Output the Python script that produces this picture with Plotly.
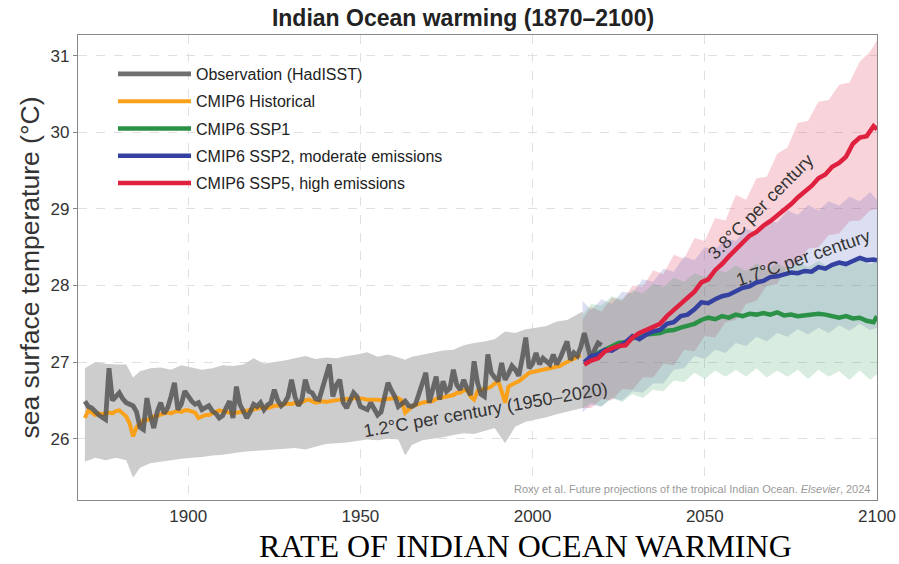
import plotly.graph_objects as go

# ---------------- data ----------------
obs_years = list(range(1870, 2021))
obs_sst = [26.49, 26.42, 26.40, 26.35, 26.31, 26.28, 26.25, 26.92, 26.50, 26.55,
           26.60, 26.52, 26.47, 26.45, 26.43, 26.35, 26.15, 26.12, 26.53, 26.30,
           26.14, 26.35, 26.47, 26.33, 26.40, 26.55, 26.73, 26.38, 26.45, 26.62,
           26.55, 26.49, 26.45, 26.47, 26.38, 26.40, 26.43, 26.36, 26.33, 26.27,
           26.30, 26.40, 26.49, 26.27, 26.68, 26.45, 26.36, 26.27, 26.35, 26.45,
           26.42, 26.47, 26.38, 26.44, 26.47, 26.64, 26.50, 26.43, 26.47, 26.55,
           26.77, 26.55, 26.43, 26.51, 26.77, 26.62, 26.60, 26.52, 26.51, 26.65,
           26.80, 26.97, 26.55, 26.70, 26.77, 26.47, 26.40, 26.50, 26.60, 26.55,
           26.42, 26.40, 26.38, 26.47, 26.40, 26.31, 26.35, 26.55, 26.73, 26.63,
           26.55, 26.42, 26.45, 26.49, 26.43, 26.42, 26.45, 26.60, 26.75, 26.86,
           26.47, 26.65, 26.81, 26.51, 26.75, 26.62, 26.66, 26.90, 26.70, 26.64,
           26.77, 26.65, 26.57, 27.01, 26.73, 26.58, 26.55, 27.10, 26.86, 26.80,
           26.75, 26.99, 26.77, 26.85, 26.95, 26.90, 26.82, 27.05, 27.32, 26.92,
           26.98, 27.12, 26.97, 27.05, 27.00, 26.97, 27.10, 26.97, 27.05, 27.18,
           27.27, 27.03, 27.12, 27.08, 27.20, 27.38, 27.20, 27.03, 27.16, 27.25,
           27.22]

hist_years = list(range(1870, 2015))
hist_sst = [26.27, 26.37, 26.34, 26.31, 26.33, 26.32, 26.33, 26.34, 26.33, 26.36,
            26.37, 26.33, 26.29, 26.20, 26.03, 26.15, 26.20, 26.24, 26.24, 26.27,
            26.29, 26.30, 26.32, 26.33, 26.34, 26.33, 26.35, 26.36, 26.35, 26.37,
            26.37, 26.36, 26.34, 26.27, 26.29, 26.31, 26.31, 26.33, 26.36, 26.37,
            26.36, 26.35, 26.34, 26.33, 26.34, 26.35, 26.36, 26.37, 26.38, 26.39,
            26.39, 26.40, 26.41, 26.40, 26.42, 26.43, 26.43, 26.44, 26.45, 26.46,
            26.45, 26.47, 26.45, 26.48, 26.50, 26.51, 26.49, 26.47, 26.48, 26.49,
            26.48, 26.49, 26.49, 26.50, 26.51, 26.51, 26.52, 26.51, 26.53, 26.53,
            26.53, 26.52, 26.51, 26.51, 26.52, 26.51, 26.50, 26.52, 26.52, 26.53,
            26.53, 26.53, 26.50, 26.34, 26.38, 26.42, 26.44, 26.46, 26.47, 26.48,
            26.49, 26.49, 26.52, 26.53, 26.55, 26.56, 26.57, 26.57, 26.60, 26.60,
            26.63, 26.64, 26.55, 26.51, 26.62, 26.64, 26.65, 26.66, 26.68, 26.72,
            26.75, 26.62, 26.47, 26.68, 26.71, 26.73, 26.75, 26.79, 26.82, 26.86,
            26.87, 26.88, 26.89, 26.90, 26.92, 26.92, 26.94, 26.95, 26.95, 26.98,
            27.00, 27.02, 27.04, 27.07, 27.09]

hist_band_years = [1870, 1873, 1876, 1879, 1882, 1884, 1886, 1889, 1892, 1895,
                   1898, 1901, 1904, 1907, 1910, 1913, 1916, 1919, 1922, 1925,
                   1928, 1931, 1934, 1937, 1940, 1943, 1946, 1949, 1952, 1955,
                   1958, 1961, 1963, 1965, 1968, 1971, 1974, 1977, 1980, 1983,
                   1986, 1989, 1992, 1995, 1998, 2001, 2004, 2007, 2010, 2014.5]
hist_upper = [26.92, 27.00, 26.98, 26.97, 26.97, 26.80, 26.88, 26.92, 26.93, 26.90,
              26.96, 26.93, 26.90, 26.92, 26.96, 26.95, 26.97, 27.05, 26.98, 27.00,
              27.02, 27.05, 27.08, 27.04, 27.06, 27.05, 27.08, 27.10, 27.13, 27.07,
              27.10, 27.06, 27.03, 27.07, 27.10, 27.12, 27.15, 27.16, 27.22, 27.25,
              27.27, 27.30, 27.40, 27.38, 27.43, 27.45, 27.47, 27.53, 27.55, 27.66]
hist_lower = [25.70, 25.75, 25.72, 25.75, 25.72, 25.49, 25.62, 25.68, 25.70, 25.72,
              25.74, 25.75, 25.76, 25.78, 25.79, 25.81, 25.83, 25.84, 25.85, 25.86,
              25.87, 25.88, 25.86, 25.90, 25.93, 25.94, 25.95, 25.97, 25.99, 25.98,
              26.00, 25.99, 25.78, 25.92, 25.98, 26.00, 26.02, 26.05, 26.07, 26.06,
              26.10, 26.14, 25.94, 26.16, 26.22, 26.25, 26.28, 26.32, 26.35, 26.40]

proj_years = list(range(2015, 2100, 2)) + [2100]
ssp5 = [26.97, 27.02, 27.05, 27.14, 27.18, 27.21, 27.22, 27.32, 27.38, 27.42,
        27.45, 27.50, 27.60, 27.69, 27.76, 27.84, 27.92, 28.04, 28.08, 28.20,
        28.28, 28.38, 28.47, 28.55, 28.65, 28.70, 28.78, 28.84, 28.91, 28.98,
        29.06, 29.15, 29.23, 29.30, 29.40, 29.45, 29.55, 29.60, 29.68, 29.85,
        29.93, 29.95, 30.08, 30.04]
ssp2 = [27.00, 27.08, 27.10, 27.16, 27.15, 27.20, 27.26, 27.34, 27.30, 27.36,
        27.40, 27.42, 27.50, 27.52, 27.60, 27.62, 27.69, 27.78, 27.77, 27.82,
        27.86, 27.88, 27.93, 27.97, 27.99, 28.04, 28.06, 28.11, 28.12, 28.15,
        28.17, 28.16, 28.19, 28.18, 28.24, 28.22, 28.27, 28.30, 28.28, 28.32,
        28.36, 28.33, 28.34, 28.33]
ssp1 = [26.97, 27.05, 27.12, 27.16, 27.20, 27.25, 27.26, 27.31, 27.33, 27.36,
        27.37, 27.38, 27.41, 27.42, 27.45, 27.47, 27.50, 27.55, 27.58, 27.56,
        27.60, 27.58, 27.62, 27.60, 27.63, 27.62, 27.64, 27.62, 27.65, 27.61,
        27.62, 27.60, 27.61, 27.62, 27.63, 27.62, 27.60, 27.58, 27.60, 27.57,
        27.58, 27.54, 27.52, 27.60]

band_years = [2014.5, 2017, 2020, 2023, 2026, 2029, 2032, 2035, 2038, 2041,
              2044, 2047, 2050, 2053, 2056, 2059, 2062, 2065, 2068, 2071,
              2074, 2077, 2080, 2083, 2086, 2089, 2092, 2095, 2098, 2100]
ssp5_upper = [27.56, 27.72, 27.66, 27.84, 27.80, 28.00, 27.98, 28.20, 28.15, 28.40,
              28.35, 28.62, 28.58, 28.88, 28.85, 29.18, 29.12, 29.40, 29.42, 29.72,
              29.80, 30.12, 30.15, 30.40, 30.42, 30.62, 30.65, 30.92, 31.05, 31.20]
ssp5_lower = [26.40, 26.40, 26.52, 26.50, 26.65, 26.64, 26.80, 26.80, 26.98, 26.96,
              27.16, 27.14, 27.34, 27.32, 27.52, 27.55, 27.76, 27.80, 28.00, 28.02,
              28.24, 28.28, 28.48, 28.50, 28.66, 28.68, 28.84, 28.85, 28.98, 29.00]
ssp2_upper = [27.80, 27.68, 27.82, 27.76, 27.92, 27.90, 28.08, 28.05, 28.22, 28.18,
              28.38, 28.33, 28.50, 28.46, 28.62, 28.58, 28.74, 28.70, 28.86, 28.82,
              28.98, 28.92, 29.05, 28.98, 29.10, 29.04, 29.16, 29.10, 29.22, 29.12]
ssp2_lower = [26.35, 26.44, 26.42, 26.53, 26.50, 26.62, 26.60, 26.72, 26.72, 26.90,
              26.92, 27.08, 27.04, 27.16, 27.12, 27.25, 27.21, 27.33, 27.27, 27.38,
              27.33, 27.43, 27.36, 27.45, 27.38, 27.48, 27.41, 27.50, 27.42, 27.45]
ssp1_upper = [27.62, 27.76, 27.74, 27.86, 27.82, 27.94, 27.90, 28.02, 27.98, 28.10,
              28.05, 28.16, 28.11, 28.22, 28.17, 28.26, 28.19, 28.29, 28.21, 28.29,
              28.22, 28.31, 28.24, 28.32, 28.24, 28.33, 28.26, 28.34, 28.27, 28.34]
ssp1_lower = [26.40, 26.47, 26.42, 26.53, 26.48, 26.58, 26.53, 26.64, 26.62, 26.76,
              26.74, 26.86, 26.78, 26.89, 26.81, 26.90, 26.81, 26.92, 26.80, 26.89,
              26.81, 26.90, 26.78, 26.90, 26.81, 26.88, 26.77, 26.89, 26.77, 26.84]

x_ticks = [1900, 1950, 2000, 2050, 2100]
y_ticks = [26, 27, 28, 29, 30, 31]

# ---------------- figure ----------------
FONT = "Liberation Sans, Arial, sans-serif"
W, H = 899, 564
L, R, T, B = 78, 22, 35, 64
PW, PH = W - L - R, H - T - B

fig = go.Figure()


def band(xs, lo, hi, color):
    fig.add_trace(go.Scatter(x=xs, y=hi, mode="lines", line=dict(width=0),
                             showlegend=False, hoverinfo="skip"))
    fig.add_trace(go.Scatter(x=xs, y=lo, mode="lines", line=dict(width=0),
                             fill="tonexty", fillcolor=color,
                             showlegend=False, hoverinfo="skip"))


band(hist_band_years, hist_lower, hist_upper, "rgb(205,205,205)")
band(band_years, ssp5_lower, ssp5_upper, "rgba(232,70,100,0.24)")
band(band_years, ssp2_lower, ssp2_upper, "rgba(80,90,185,0.20)")
band(band_years, ssp1_lower, ssp1_upper, "rgba(60,165,95,0.20)")

fig.add_trace(go.Scatter(x=hist_years, y=hist_sst, mode="lines", name="CMIP6 Historical",
                         legendgroup="b", legendrank=2,
                         line=dict(color="#F9A11B", width=4)))
fig.add_trace(go.Scatter(x=obs_years, y=obs_sst, mode="lines", name="Observation (HadISST)",
                         legendgroup="a", legendrank=1,
                         line=dict(color="rgba(80,80,80,0.82)", width=4.8)))
fig.add_trace(go.Scatter(x=proj_years, y=ssp1, mode="lines", name="CMIP6 SSP1",
                         legendgroup="c", legendrank=3,
                         line=dict(color="#2A9146", width=4.5)))
fig.add_trace(go.Scatter(x=proj_years, y=ssp2, mode="lines", name="CMIP6 SSP2, moderate emissions",
                         legendgroup="d", legendrank=4,
                         line=dict(color="#3441A0", width=4.5)))
fig.add_trace(go.Scatter(x=proj_years, y=ssp5, mode="lines", name="CMIP6 SSP5, high emissions",
                         legendgroup="e", legendrank=5,
                         line=dict(color="#E0203F", width=4.5)))

annotations = [
    dict(x=1986.2, y=26.37, xref="x", yref="y", text="1.2°C per century (1950–2020)",
         textangle=-10, showarrow=False, font=dict(family=FONT, size=18, color="#333")),
    dict(x=2066.2, y=29.02, xref="x", yref="y", text="3.8°C per century",
         textangle=-45, showarrow=False, font=dict(family=FONT, size=18, color="#333")),
    dict(x=2078.5, y=28.36, xref="x", yref="y", text="1.7°C per century",
         textangle=-19, showarrow=False, font=dict(family=FONT, size=18, color="#333")),
    dict(x=(872 - L) / PW, y=(500 - 489) / PH, xref="paper", yref="paper",
         xanchor="right", yanchor="middle",
         text="Roxy et al. Future projections of the tropical Indian Ocean. <i>Elsevier</i>, 2024",
         showarrow=False, font=dict(family=FONT, size=11, color="#9a9a9a")),
    dict(x=(525 - L) / PW, y=-(546 - 500) / PH, xref="paper", yref="paper",
         xanchor="center", yanchor="middle", text="RATE OF INDIAN OCEAN WARMING",
         showarrow=False, font=dict(family="Liberation Serif, Times New Roman, serif",
                                    size=32, color="#000")),
]

fig.update_layout(
    width=W, height=H,
    margin=dict(l=L, r=R, t=T, b=B, autoexpand=False),
    paper_bgcolor="white", plot_bgcolor="white",
    font=dict(family=FONT, color="#333"),
    title=dict(text="<b>Indian Ocean warming (1870–2100)</b>", x=463 / W, xanchor="center",
               y=1 - 18 / H, yanchor="middle", yref="container",
               font=dict(family=FONT, size=23, color="#222")),
    legend=dict(x=(113 - L) / PW, y=1 - (57 - T) / PH, xanchor="left", yanchor="top",
                bgcolor="rgba(0,0,0,0)",
                font=dict(family=FONT, size=16, color="#222"), tracegroupgap=3.5,
                itemwidth=73, traceorder="grouped"),
    annotations=annotations,
    showlegend=True,
)
fig.update_xaxes(range=[1868, 2100], tickvals=x_ticks, ticktext=[str(v) for v in x_ticks],
                 showgrid=True, gridcolor="#e0e0e0", griddash="dash", gridwidth=1,
                 showline=True, linecolor="#888", linewidth=1.2, mirror=True,
                 ticks="", tickfont=dict(size=17, color="#333"), zeroline=False,
                 automargin=False)
fig.update_yaxes(range=[25.2, 31.27], tickvals=y_ticks, ticktext=[str(v) for v in y_ticks],
                 showgrid=True, gridcolor="#e0e0e0", griddash="dash", gridwidth=1,
                 showline=True, linecolor="#888", linewidth=1.2, mirror=True,
                 ticks="outside", ticklen=4, tickcolor="#888",
                 tickfont=dict(size=17, color="#333"), zeroline=False, automargin=False,
                 title=dict(text="sea surface temperature (°C)", standoff=3,
                            font=dict(size=26.5, color="#333")))

fig.write_html("out.html", config={"displayModeBar": False},
               post_script="document.body.style.margin='0';document.body.style.padding='0';")
